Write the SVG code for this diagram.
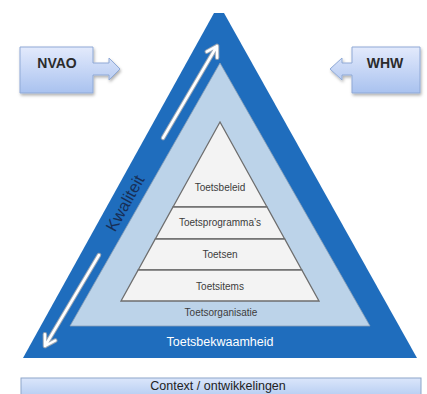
<svg xmlns="http://www.w3.org/2000/svg" width="427" height="394" viewBox="0 0 427 394">
  <defs>
    <linearGradient id="boxGrad" x1="0" y1="0" x2="0" y2="1">
      <stop offset="0" stop-color="#e3eafc"/>
      <stop offset="1" stop-color="#a9c2ef"/>
    </linearGradient>
    <linearGradient id="barGrad" x1="0" y1="0" x2="0" y2="1">
      <stop offset="0" stop-color="#dbe6fb"/>
      <stop offset="1" stop-color="#b3cbf1"/>
    </linearGradient>
    <filter id="shadow" x="-20%" y="-20%" width="140%" height="150%">
      <feDropShadow dx="1" dy="2" stdDeviation="1.5" flood-color="#000" flood-opacity="0.3"/>
    </filter>
  </defs>
  <style>
    .lbl { font-family: "Liberation Sans", Arial, sans-serif; }
    .box { fill: url(#boxGrad); stroke: #8fa9d6; stroke-width: 1; filter: url(#shadow); }
    .boxtxt { font-size: 14px; font-weight: bold; fill: #2b2b2b; text-anchor: middle; }
    .layer { fill: #f3f3f3; stroke: #6e6e6e; stroke-width: 1.3; }
    .layertxt { font-size: 10px; fill: #3c3c3c; text-anchor: middle; }
    .arrShadow { fill: none; stroke: #9aa6b4; stroke-width: 4.5; stroke-linecap: round; stroke-linejoin: round; }
    .arr { fill: none; stroke: #ffffff; stroke-width: 2.5; stroke-linecap: round; stroke-linejoin: round; }
  </style>

  <rect width="427" height="394" fill="#ffffff"/>

  <g id="outer-triangle">
    <polygon points="214,13 224,13 417,358 23,358" fill="#1f6dbd"/>
  </g>
  <g id="middle-triangle">
    <polygon points="220,63 370,326 70,326" fill="#bcd3e9" stroke="#8a9fb6" stroke-width="0.8"/>
  </g>

  <g id="toetsbeleid">
    <polygon class="layer" points="220,122 267,207 173,207"/>
    <text class="lbl layertxt" x="220" y="191">Toetsbeleid</text>
  </g>
  <g id="toetsprogrammas">
    <polygon class="layer" points="173,207 267,207 284.7,239 155.3,239"/>
    <text class="lbl layertxt" x="220" y="226">Toetsprogramma’s</text>
  </g>
  <g id="toetsen">
    <polygon class="layer" points="155.3,239 284.7,239 301.8,270 138.2,270"/>
    <text class="lbl layertxt" x="220" y="258">Toetsen</text>
  </g>
  <g id="toetsitems">
    <polygon class="layer" points="138.2,270 301.8,270 319,301 121,301"/>
    <text class="lbl layertxt" x="220" y="290">Toetsitems</text>
  </g>
  <g id="toetsorganisatie">
    <text class="lbl layertxt" x="221" y="316">Toetsorganisatie</text>
  </g>
  <g id="toetsbekwaamheid">
    <text class="lbl" x="220" y="346" font-size="12.5" fill="#ffffff" text-anchor="middle">Toetsbekwaamheid</text>
  </g>
  <g id="kwaliteit">
    <text class="lbl" x="0" y="0" font-size="16.5" fill="#172f57" text-anchor="middle" transform="translate(130,206) rotate(-61)">Kwaliteit</text>
  </g>

  <g id="connectors">
    <path class="arrShadow" d="M163,138 L217,46 M206.8,51.6 L217,46 L217.1,57.7"/>
    <path class="arr" d="M163,138 L217,46 M206.8,51.6 L217,46 L217.1,57.7"/>
    <path class="arrShadow" d="M99,255 L45,346 M44.9,334.3 L45,346 L55.3,340.5"/>
    <path class="arr" d="M99,255 L45,346 M44.9,334.3 L45,346 L55.3,340.5"/>
  </g>

  <g id="nvao">
    <path class="box" d="M20,47 H93 V63 H109 V58 L120,69 L109,80 V75 H93 V93 H20 Z"/>
    <text class="lbl boxtxt" x="57" y="68">NVAO</text>
  </g>
  <g id="whw">
    <path class="box" d="M352,47 H420 V93 H352 V75 H342 V80 L330,69 L342,58 V63 H352 Z"/>
    <text class="lbl boxtxt" x="385" y="68">WHW</text>
  </g>

  <g id="context">
    <rect x="21" y="378" width="400" height="20" fill="url(#barGrad)" stroke="#8ea6c9" stroke-width="1"/>
    <text class="lbl" x="218" y="390" font-size="12.5" fill="#222222" text-anchor="middle">Context / ontwikkelingen</text>
  </g>
</svg>
